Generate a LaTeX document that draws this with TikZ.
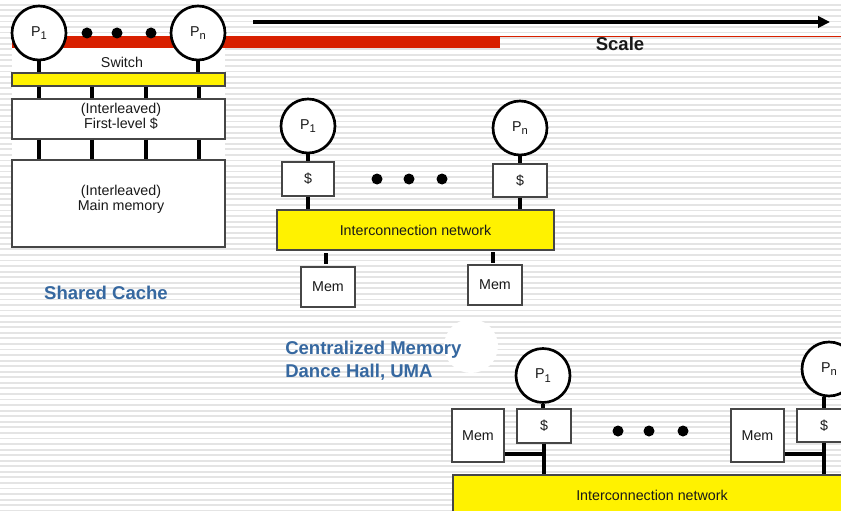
\documentclass[tikz,border=0pt]{standalone}
\usepackage{fontspec}
\setmainfont{Liberation Sans}
\usetikzlibrary{arrows.meta,calc}
\definecolor{stripec}{RGB}{228,228,228}
\definecolor{redbar}{RGB}{216,32,0}
\definecolor{labelblue}{RGB}{54,104,160}
\definecolor{boxline}{RGB}{70,70,70}
\definecolor{txt}{RGB}{25,25,25}
\def\PX{0.75pt}
\newcommand{\Psub}[1]{P\raisebox{-0.5ex}{\fontsize{8.4}{8}\selectfont #1}}
\begin{document}
\begin{tikzpicture}[x=0.75pt,y=-0.75pt,
  regular/.style={font=\fontsize{10.7}{12.8}\selectfont,text=txt},
  boldlab/.style={font=\fontsize{13.9}{17.25}\selectfont\bfseries},
  proc/.style={circle,draw=black,line width=2pt,fill=white,minimum size=54*\PX,inner sep=0pt,regular},
  box/.style={rectangle,draw=boxline,line width=0.8pt,fill=white,inner sep=0pt,regular},
  bus/.style={box,fill=yellow},
  wire/.style={line width=2.4pt,black},
  dotn/.style={circle,fill=black,minimum size=11*\PX,inner sep=0pt},
  stripe/.style={line width=1.4pt,stripec}
]
\useasboundingbox (0,0) rectangle (841,510);
\clip (0,0) rectangle (841,510);
\fill[white] (0,0) rectangle (841,510);
\foreach \i in {0,...,93} {\draw[stripe] (0,{-0.8+5.56*\i}) -- (841,{-0.8+5.56*\i});}
% white areas
\fill[white] (12,48) rectangle (225,247);
\fill[white] (471,346) circle (27);
% scale bar
\fill[redbar] (12,36) rectangle (500,48);
\draw[redbar,line width=0.9pt] (500,36.6) -- (841,36.6);
\coordinate (arS) at (253,22);
\coordinate (arE) at (830,22);
\draw[line width=2.4pt,-{Triangle[length=9pt,width=8.5pt]}] (arS) -- (arE);
\node[boldlab,text=txt] (scale) at (620,44) {Scale};

% ---------- Shared cache ----------
\node[proc] (p1a) at (39,33) {\Psub{1}};
\node[proc] (pna) at (198,33) {\Psub{n}};
\node[dotn] (da1) at (87,33) {};
\node[dotn] (da2) at (117,33) {};
\node[dotn] (da3) at (151,33) {};
\node[regular] (swl) at (122,62) {Switch};
\node[bus,minimum width=213*\PX,minimum height=13*\PX] (switch) at (118.5,79.5) {};
\node[box,minimum width=213*\PX,minimum height=40*\PX] (cache1) at (118.5,119) {};
\node[regular,align=center,font=\fontsize{10.7}{9}\selectfont] (t1) at (121,116.5) {(Interleaved)\\First-level \$};
\node[box,minimum width=213*\PX,minimum height=87*\PX] (mainmem) at (118.5,203.5) {};
\node[regular,align=center,font=\fontsize{10.7}{11.4}\selectfont] (t2) at (121,199.5) {(Interleaved)\\Main memory};
\draw[wire] (p1a.south) -- (p1a.south |- switch.north);
\draw[wire] (pna.south) -- (pna.south |- switch.north);
\foreach \x [count=\i] in {39,92,146,199} {
  \coordinate (sc\i) at (\x,0);
  \draw[wire] (sc\i |- switch.south) -- (sc\i |- cache1.north);
  \draw[wire] (sc\i |- cache1.south) -- (sc\i |- mainmem.north);
}
\node[boldlab,text=labelblue] (lshared) at (106,293) {Shared Cache};

% ---------- Centralized memory ----------
\node[proc] (p1b) at (308,126) {\Psub{1}};
\node[proc] (pnb) at (520,128) {\Psub{n}};
\node[box,minimum width=52*\PX,minimum height=34*\PX] (cb1) at (308,179) {\$};
\node[box,minimum width=54*\PX,minimum height=33*\PX] (cbn) at (520,180.5) {\$};
\node[bus,minimum width=277*\PX,minimum height=40*\PX] (net1) at (415.5,230) {Interconnection network};
\node[box,minimum width=54*\PX,minimum height=40*\PX] (mb1) at (328,287) {Mem};
\node[box,minimum width=54*\PX,minimum height=40*\PX] (mbn) at (495,285) {Mem};
\node[dotn] (db1) at (377,179) {};
\node[dotn] (db2) at (409,179) {};
\node[dotn] (db3) at (442,179) {};
\draw[wire] (p1b.south) -- (cb1.north);
\draw[wire] (pnb.south) -- (cbn.north);
\draw[wire] (cb1.south) -- (cb1.south |- net1.north);
\draw[wire] (cbn.south) -- (cbn.south |- net1.north);
\coordinate (s1a) at (326,253); \coordinate (s1b) at (326,264);
\coordinate (s2a) at (493,252); \coordinate (s2b) at (493,263);
\draw[wire] (s1a) -- (s1b);
\draw[wire] (s2a) -- (s2b);
\node[boldlab,text=labelblue,align=left,anchor=west,inner sep=0pt] (lcent) at (285,360.5) {Centralized Memory\\Dance Hall, UMA};

% ---------- Distributed memory ----------
\node[proc] (p1c) at (543,375.5) {\Psub{1}};
\node[proc] (pnc) at (829,369) {\Psub{n}};
\node[box,minimum width=54*\PX,minimum height=34*\PX] (cc1) at (544,426) {\$};
\node[box,minimum width=52*\PX,minimum height=53*\PX] (mc1) at (478,435.5) {Mem};
\node[box,minimum width=54*\PX,minimum height=33*\PX] (ccn) at (824,425.5) {\$};
\node[box,minimum width=53*\PX,minimum height=53*\PX] (mcn) at (757.5,435.5) {Mem};
\node[bus,minimum width=398*\PX,minimum height=40*\PX] (net2) at (652,495) {Interconnection network};
\node[dotn] (dc1) at (618,431) {};
\node[dotn] (dc2) at (649,431) {};
\node[dotn] (dc3) at (683,431) {};
\draw[wire] (p1c.south) -- (p1c.south |- cc1.north);
\draw[wire] (cc1.south) -- (cc1.south |- net2.north);
\draw[wire] (pnc.south -| ccn.north) -- (ccn.north);
\draw[wire] (ccn.south) -- (ccn.south |- net2.north);
\coordinate (j1) at (544,454);
\coordinate (j2) at (824,454);
\draw[wire] (mc1.east |- j1) -- (j1);
\draw[wire] (mcn.east |- j2) -- (j2);
\end{tikzpicture}
\end{document}
